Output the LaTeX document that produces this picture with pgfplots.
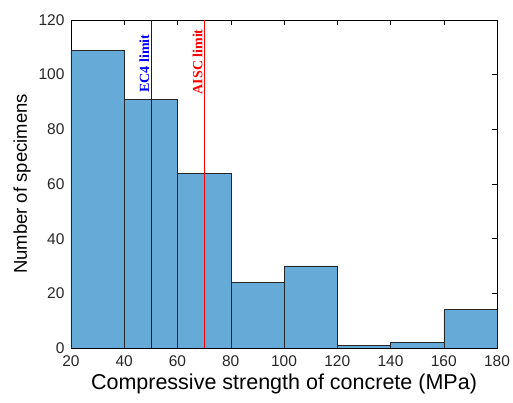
\documentclass[border=0pt]{standalone}
\usepackage{pgfplots}
\pgfplotsset{compat=1.18}
\usepackage{fontspec}
\setmainfont{Liberation Sans}
\newfontfamily\serifann{Liberation Serif}
\definecolor{barblue}{RGB}{102,170,215}
\begin{document}
\begin{tikzpicture}
\begin{axis}[
  scale only axis,
  width=426pt, height=328pt,
  xmin=20, xmax=180, ymin=0, ymax=120,
  xtick={20,40,...,180}, ytick={0,20,...,120},
  tick align=inside,
  tick style={black, thin},
  major tick length=5pt,
  axis line style={black, thin},
  /pgf/number format/assume math mode=true,
  ticklabel style={font=\fontsize{15.5}{15.5}\selectfont, color=black!85},
  xticklabel style={yshift=-4pt},
  yticklabel style={xshift=-3pt},
  xlabel={Compressive strength of concrete (MPa)},
  ylabel={Number of specimens},
  xlabel style={font=\fontsize{21.5}{21.5}\selectfont, yshift=-1pt},
  ylabel style={font=\fontsize{18.5}{18.5}\selectfont, yshift=1pt},
]
\addplot[ybar interval, fill=barblue, draw=black!85, line width=0.5pt] coordinates {
  (20,109) (40,91) (60,64) (80,24) (100,30) (120,1) (140,2) (160,14) (180,14)
};
\addplot[blue, line width=0.7pt] coordinates {(50,0) (50,120)};
\addplot[red, line width=0.7pt] coordinates {(70,0) (70,120)};
\node[rotate=90, anchor=south east, inner sep=1.5pt, text=blue, font=\serifann\fontsize{14}{14}\selectfont\bfseries] at (axis cs:50,115.3) {EC4 limit};
\node[rotate=90, anchor=south east, inner sep=1.5pt, text=red, font=\serifann\fontsize{14}{14}\selectfont\bfseries] at (axis cs:70,117.2) {AISC limit};
\end{axis}
\pgfresetboundingbox
\path[use as bounding box] (-71pt,-55pt) rectangle (442pt,348pt);
\end{tikzpicture}
\end{document}
